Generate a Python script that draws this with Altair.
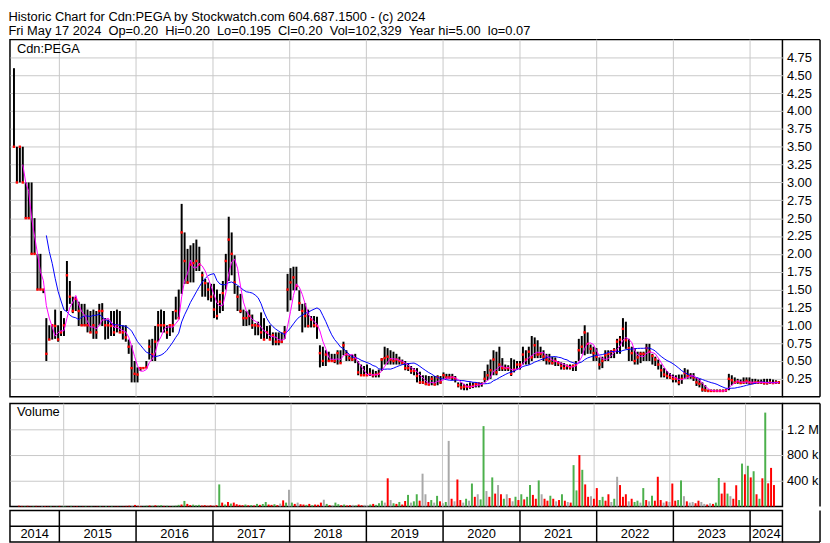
import altair as alt
import pandas as pd

FONT = "Liberation Sans"
HEADER = [
    "Historic Chart for Cdn:PEGA by Stockwatch.com 604.687.1500 - (c) 2024",
    "Fri May 17 2024\u00a0\u00a0Op=0.20\u00a0\u00a0Hi=0.20\u00a0\u00a0Lo=0.195\u00a0\u00a0Cl=0.20"
    "\u00a0\u00a0Vol=102,329\u00a0\u00a0Year hi=5.00\u00a0\u00a0lo=0.07",
]
SYMBOL = "Cdn:PEGA"
LAST_DATE = "2024-05-17"          # last bi-weekly bar
PRICE_TICKS = [0.25, 0.5, 0.75, 1.0, 1.25, 1.5, 1.75, 2.0, 2.25, 2.5, 2.75, 3.0,
               3.25, 3.5, 3.75, 4.0, 4.25, 4.5, 4.75]
VOL_TICKS = [400000, 800000, 1200000]
YEARS = [2014, 2015, 2016, 2017, 2018, 2019, 2020, 2021, 2022, 2023, 2024]

# bi-weekly bars, one line per calendar year
high = [
    4.6, 3.5, 3.5, 3.5, 3.0, 3.0, 3.0, 2.5, 2.0, 2.0, 1.5, 1.1, 1.0, 1.0, 1.22, 1.0,
    1.2, 1.1, 1.9, 1.62, 1.4, 1.4, 1.33, 1.3, 1.3, 1.22, 1.2, 1.22, 1.2, 1.3, 1.31, 1.1, 1.08, 1.2, 1.2, 1.22, 1.2, 1.0, 1.0, 0.8, 0.72, 0.5,
    0.41, 0.41, 0.41, 0.5, 0.8, 0.81, 0.99, 1.2, 1.22, 1.2, 1.0, 1.0, 1.2, 1.4, 1.5, 2.7, 2.3, 2.07, 2.12, 2.15, 2.2, 2.1, 1.75, 1.65, 1.6, 1.58,
    1.58, 1.5, 1.44, 1.62, 2.0, 2.52, 2.3, 1.98, 1.55, 1.44, 1.22, 1.2, 1.22, 1.15, 1.03, 1.05, 1.18, 1.1, 0.99, 1.0, 0.9, 0.9, 0.9, 0.9, 0.99, 1.72,
    1.8, 1.82, 1.82, 1.49, 1.3, 1.31, 1.22, 1.13, 1.13, 1.12, 0.72, 0.7, 0.65, 0.63, 0.6, 0.6, 0.65, 0.65, 0.77, 0.65, 0.59, 0.59, 0.6, 0.5, 0.45, 0.43, 0.45,
    0.4, 0.38, 0.36, 0.38, 0.54, 0.7, 0.68, 0.65, 0.63, 0.6, 0.56, 0.52, 0.5, 0.47, 0.43, 0.4, 0.4, 0.35, 0.3, 0.3, 0.29, 0.29, 0.29, 0.3, 0.29, 0.34,
    0.32, 0.32, 0.32, 0.29, 0.2, 0.2, 0.18, 0.18, 0.2, 0.2, 0.2, 0.2, 0.2, 0.36, 0.45, 0.52, 0.65, 0.63, 0.7, 0.54, 0.45, 0.44, 0.54, 0.52, 0.5, 0.5,
    0.7, 0.65, 0.7, 0.85, 0.83, 0.79, 0.7, 0.65, 0.6, 0.6, 0.56, 0.55, 0.5, 0.48, 0.47, 0.45, 0.45, 0.45, 0.5, 0.81, 0.85, 1.0, 0.9, 0.73, 0.7, 0.68,
    0.55, 0.56, 0.65, 0.65, 0.65, 0.68, 0.81, 0.85, 1.1, 1.05, 0.81, 0.7, 0.68, 0.63, 0.63, 0.63, 0.74, 0.74, 0.6, 0.56, 0.52, 0.45, 0.4, 0.36, 0.33, 0.31, 0.3,
    0.31, 0.31, 0.4, 0.38, 0.33, 0.33, 0.27, 0.25, 0.2, 0.16, 0.1, 0.1, 0.1, 0.1, 0.1, 0.1, 0.11, 0.32, 0.3, 0.27, 0.25, 0.24, 0.27, 0.27, 0.27,
    0.25, 0.25, 0.24, 0.24, 0.25, 0.25, 0.25, 0.24, 0.23, 0.22,
]
low = [
    3.5, 3.0, 3.0, 3.0, 2.5, 2.5, 2.0, 2.0, 1.5, 1.5, 1.45, 0.5, 0.8, 0.8, 0.81, 0.77,
    0.85, 0.85, 1.2, 1.3, 1.17, 1.2, 0.99, 0.99, 0.99, 0.9, 0.9, 0.81, 0.81, 1.0, 0.99, 0.8, 0.81, 0.85, 0.85, 0.9, 0.9, 0.8, 0.77, 0.6, 0.2, 0.2,
    0.2, 0.36, 0.4, 0.4, 0.52, 0.5, 0.5, 0.77, 0.9, 0.9, 0.81, 0.85, 0.9, 1.08, 1.1, 1.44, 1.58, 1.58, 1.6, 1.6, 1.76, 1.76, 1.4, 1.4, 1.35, 1.33,
    1.1, 1.08, 1.17, 1.2, 1.5, 1.62, 1.7, 1.44, 1.2, 1.17, 0.99, 0.99, 1.0, 0.95, 0.86, 0.86, 0.81, 0.8, 0.81, 0.8, 0.72, 0.72, 0.72, 0.75, 0.81, 1.19,
    1.35, 1.49, 1.49, 1.2, 0.9, 0.97, 0.97, 0.97, 0.97, 0.81, 0.41, 0.43, 0.43, 0.5, 0.5, 0.47, 0.45, 0.47, 0.58, 0.5, 0.5, 0.5, 0.47, 0.3, 0.29, 0.29, 0.29,
    0.29, 0.27, 0.27, 0.27, 0.36, 0.45, 0.45, 0.45, 0.45, 0.45, 0.45, 0.45, 0.37, 0.36, 0.32, 0.3, 0.2, 0.18, 0.18, 0.16, 0.16, 0.16, 0.16, 0.16, 0.18, 0.25,
    0.25, 0.25, 0.23, 0.2, 0.13, 0.1, 0.09, 0.09, 0.11, 0.12, 0.13, 0.13, 0.14, 0.2, 0.23, 0.25, 0.3, 0.3, 0.36, 0.36, 0.36, 0.36, 0.29, 0.34, 0.38, 0.38,
    0.45, 0.45, 0.45, 0.5, 0.54, 0.54, 0.54, 0.5, 0.45, 0.45, 0.45, 0.43, 0.43, 0.38, 0.38, 0.38, 0.38, 0.36, 0.36, 0.5, 0.6, 0.58, 0.6, 0.6, 0.5, 0.5,
    0.38, 0.4, 0.5, 0.5, 0.54, 0.54, 0.6, 0.6, 0.7, 0.67, 0.5, 0.5, 0.45, 0.45, 0.47, 0.5, 0.5, 0.5, 0.45, 0.43, 0.38, 0.27, 0.27, 0.25, 0.25, 0.2, 0.2,
    0.16, 0.18, 0.25, 0.25, 0.25, 0.22, 0.15, 0.13, 0.07, 0.07, 0.07, 0.07, 0.07, 0.07, 0.07, 0.07, 0.07, 0.09, 0.16, 0.18, 0.18, 0.18, 0.18, 0.18, 0.17,
    0.18, 0.18, 0.18, 0.18, 0.17, 0.17, 0.18, 0.18, 0.18, 0.18,
]
close = [
    3.5, 3.0, 3.5, 3.0, 2.5, 2.5, 2.0, 2.0, 1.5, 1.5, 1.5, 0.6, 0.8, 1.0, 0.99, 0.8,
    0.9, 1.0, 1.7, 1.4, 1.2, 1.37, 1.2, 1.0, 1.0, 1.0, 0.9, 1.0, 0.9, 1.2, 1.2, 1.0, 1.0, 0.99, 0.9, 1.0, 0.9, 0.9, 0.83, 0.7, 0.4, 0.32,
    0.31, 0.4, 0.4, 0.41, 0.7, 0.59, 0.77, 1.0, 1.0, 1.0, 0.9, 1.0, 1.0, 1.2, 1.1, 2.3, 1.9, 1.6, 1.85, 1.87, 1.9, 1.85, 1.7, 1.59, 1.5, 1.4,
    1.22, 1.13, 1.33, 1.45, 1.9, 2.2, 2.0, 1.6, 1.4, 1.2, 1.1, 1.1, 1.13, 1.0, 1.0, 0.99, 0.9, 0.8, 0.9, 0.8, 0.86, 0.77, 0.77, 0.77, 0.9, 1.5,
    1.6, 1.67, 1.55, 1.31, 1.2, 1.13, 0.99, 1.08, 1.0, 0.99, 0.61, 0.5, 0.59, 0.5, 0.5, 0.5, 0.61, 0.47, 0.72, 0.59, 0.54, 0.52, 0.54, 0.34, 0.3, 0.3, 0.3,
    0.32, 0.3, 0.31, 0.32, 0.52, 0.54, 0.56, 0.52, 0.5, 0.52, 0.5, 0.47, 0.4, 0.4, 0.36, 0.36, 0.29, 0.2, 0.2, 0.18, 0.17, 0.25, 0.17, 0.27, 0.2, 0.3,
    0.27, 0.27, 0.27, 0.25, 0.16, 0.13, 0.14, 0.14, 0.14, 0.15, 0.18, 0.18, 0.18, 0.25, 0.3, 0.37, 0.52, 0.34, 0.45, 0.4, 0.4, 0.4, 0.32, 0.38, 0.45, 0.45,
    0.59, 0.52, 0.63, 0.55, 0.72, 0.59, 0.6, 0.56, 0.52, 0.5, 0.47, 0.5, 0.47, 0.43, 0.4, 0.43, 0.41, 0.43, 0.45, 0.65, 0.7, 0.9, 0.74, 0.67, 0.61, 0.56,
    0.45, 0.5, 0.58, 0.6, 0.63, 0.65, 0.77, 0.8, 0.95, 0.79, 0.68, 0.61, 0.5, 0.55, 0.6, 0.6, 0.68, 0.63, 0.57, 0.52, 0.45, 0.37, 0.31, 0.29, 0.27, 0.25, 0.25,
    0.2, 0.25, 0.33, 0.29, 0.29, 0.27, 0.2, 0.18, 0.1, 0.09, 0.08, 0.08, 0.08, 0.08, 0.08, 0.08, 0.09, 0.25, 0.23, 0.2, 0.21, 0.19, 0.2, 0.22, 0.2,
    0.19, 0.2, 0.2, 0.2, 0.19, 0.19, 0.2, 0.19, 0.2, 0.2,
]
# volume in thousands of shares
volume_k = [
    12, 8, 6, 10, 5, 7, 9, 4, 6, 8, 5, 7, 4, 6, 9, 5,
    6, 4, 9, 5, 7, 3, 5, 8, 4, 6, 3, 5, 7, 4, 6, 5, 8, 4, 6, 3, 5, 9, 12, 7, 24, 10,
    8, 5, 12, 15, 10, 18, 14, 20, 9, 11, 6, 8, 12, 25, 30, 86, 40, 22, 28, 18, 25, 15, 20, 12, 18, 10,
    20, 343, 60, 30, 70, 45, 60, 35, 25, 20, 30, 18, 22, 15, 40, 25, 40, 70, 30, 25, 35, 20, 45, 95, 60, 260,
    60, 40, 60, 35, 30, 25, 40, 20, 30, 25, 60, 105, 40, 20, 15, 60, 35, 20, 30, 15, 20, 25, 15, 30, 20, 25, 18,
    30, 40, 25, 50, 90, 60, 438, 100, 50, 40, 70, 30, 85, 180, 60, 80, 190, 90, 510, 190, 70, 100, 60, 165, 80, 50,
    70, 1020, 120, 80, 420, 100, 60, 120, 90, 357, 150, 190, 110, 1250, 240, 150, 452, 200, 333, 190, 120, 190, 130, 80, 150, 100,
    190, 110, 150, 333, 180, 120, 405, 190, 120, 90, 167, 120, 80, 100, 190, 90, 70, 60, 643, 250, 800, 570, 343, 150, 160, 120,
    286, 100, 150, 90, 190, 70, 120, 462, 333, 150, 190, 80, 120, 70, 90, 60, 286, 100, 80, 167, 90, 462, 100, 60, 80, 70, 357,
    90, 100, 405, 160, 80, 60, 70, 50, 90, 70, 40, 30, 50, 40, 60, 443, 200, 371, 200, 160, 120, 330, 100, 667, 500,
    633, 452, 548, 190, 120, 438, 1460, 360, 600, 333,
]
# g = up (green), r = down (red), n = unchanged (grey)
volume_dir = (
    "rrgrrgrrnrrgrgrg"
    "grgrrgrgrgrrgrgrgrrgrrrnrr"
    "rggrgrggrgrgggrgrrgggrrrrr"
    "rgrgrgrrrrgrgrgrggrrgrnrgn"
    "grnrrgrgrrrngrnggrgrrngrrnn"
    "grgggnrngrgrrgnggrnnrgngrn"
    "gnrnrrngngrnggnrgrnrgnrngr"
    "grggrrgnrrgrnrgrnrggrgrrnr"
    "rggrrngnrrrnrggngrngrrrnrnr"
    "rggnrnnrrnnrnrggrrgnrrggr"
    "grgrgrgrrr"
)

W, HP, HV, HY = 781, 361, 104, 32
RX = W + 38
GRID = "#c8c8c8"

dates = pd.date_range(end=LAST_DATE, periods=len(close), freq="14D")
df = pd.DataFrame({
    "date": dates, "high": high, "low": low, "close": close,
    "volume": [v * 1000 for v in volume_k], "dir": list(volume_dir),
})

x_start = pd.Timestamp("2014-05-11")
x_end = pd.Timestamp("2024-06-03")
year_starts = pd.DataFrame({"date": [pd.Timestamp(f"{y}-01-01") for y in YEARS[1:]]})
seg_start = [max(pd.Timestamp(f"{y}-01-01"), x_start) for y in YEARS]
seg_end = [min(pd.Timestamp(f"{y + 1}-01-01"), x_end) for y in YEARS]
segs = pd.DataFrame({
    "label": [str(y) for y in YEARS],
    "mid": [a + (b - a) / 2 for a, b in zip(seg_start, seg_end)],
})

xscale = alt.Scale(domain=[alt.DateTime(year=2014, month=5, date=11),
                           alt.DateTime(year=2024, month=6, date=3)])
X = alt.X("date:T", scale=xscale, axis=None)

price_axis = alt.Axis(orient="right", values=PRICE_TICKS, format=".2f", title=None,
                      grid=True, gridColor=GRID, domain=False, ticks=False, labelPadding=4,
                      labelFont=FONT, labelFontSize=13, labelColor="black")
pscale = alt.Scale(domain=[0, 5], nice=False, zero=True)

one = pd.DataFrame({"v": [0]})


def frame(h, top, bottom):
    base = alt.Chart(one)
    layers = [base.mark_rule(color="black", strokeWidth=1.5).encode(
        x=alt.value(RX), y=alt.value(0), y2=alt.value(h))]
    if top:
        layers.append(base.mark_rule(color="black", strokeWidth=1.5).encode(
            x=alt.value(W), x2=alt.value(RX), y=alt.value(0)))
    if bottom:
        layers.append(base.mark_rule(color="black", strokeWidth=1.5).encode(
            x=alt.value(W), x2=alt.value(RX), y=alt.value(h)))
    return layers


vgrid = alt.Chart(year_starts).mark_rule(color=GRID, strokeWidth=1).encode(x=X)

bars = alt.Chart(df).mark_rule(color="black", strokeWidth=2).encode(
    x=X, y=alt.Y("low:Q", scale=pscale, axis=price_axis), y2="high:Q")
closes = alt.Chart(df).mark_square(color="#ff0000", size=6, opacity=1).encode(
    x=X, y=alt.Y("close:Q", scale=pscale, axis=price_axis))


def ma_line(n, color):
    return alt.Chart(df).transform_window(
        window=[alt.WindowFieldDef(op="mean", field="close", **{"as": "ma"}),
                alt.WindowFieldDef(op="count", **{"as": "cnt"})],
        frame=[-(n - 1), 0], sort=[alt.SortField(field="date", order="ascending")]
    ).transform_filter(f"datum.cnt >= {n}").mark_line(color=color, strokeWidth=1).encode(
        x=X, y=alt.Y("ma:Q", scale=pscale, axis=price_axis))


sym = alt.Chart(one).mark_text(align="left", baseline="top", font=FONT, fontSize=13,
                               color="black").encode(
    x=alt.value(7), y=alt.value(4), text=alt.value(SYMBOL))

price = alt.layer(vgrid, bars, closes, ma_line(12, "#0000ff"), ma_line(4, "#ff00ff"), sym,
                  *frame(HP, True, True)).properties(width=W, height=HP)

vol_axis = alt.Axis(orient="right", values=VOL_TICKS, title=None, grid=True, gridColor=GRID,
                    domain=False, ticks=False, labelPadding=4, labelFont=FONT, labelFontSize=13,
                    labelColor="black",
                    labelExpr="datum.value >= 1000000 ? format(datum.value / 1000000, '.1f') + ' M'"
                              " : format(datum.value / 1000, 'd') + ' k'")
vbars = alt.Chart(df).mark_bar(size=2).encode(
    x=X,
    y=alt.Y("volume:Q", scale=alt.Scale(domain=[0, 1600000], nice=False), axis=vol_axis),
    color=alt.Color("dir:N", scale=alt.Scale(domain=["g", "r", "n"],
                                            range=["#4cb04c", "#ff0000", "#a8a8a8"]),
                    legend=None),
)
vlabel = alt.Chart(one).mark_text(align="left", baseline="top", font=FONT, fontSize=13,
                                  color="black").encode(
    x=alt.value(7), y=alt.value(3), text=alt.value("Volume"))
volume = alt.layer(vgrid, vbars, vlabel, *frame(HV, True, False)).properties(width=W, height=HV)

ysep = alt.Chart(year_starts).mark_rule(color="black", strokeWidth=1.5).encode(x=X)
ymid = alt.Chart(one).mark_rule(color="black", strokeWidth=1.5).encode(
    x=alt.value(0), x2=alt.value(W), y=alt.value(16))
ytext = alt.Chart(segs).mark_text(font=FONT, fontSize=13, color="black", baseline="middle").encode(
    x=alt.X("mid:T", scale=xscale, axis=None), y=alt.value(24), text="label:N")
years = alt.layer(ysep, ymid, ytext, *frame(HY, False, True)).properties(width=W, height=HY)

chart = alt.vconcat(
    alt.vconcat(price, volume, spacing=3),
    years,
    spacing=0,
    padding=0,
    title=alt.Title(HEADER, anchor="start", font=FONT, fontSize=13, fontWeight="normal",
                    color="black", lineHeight=14, offset=0),
).configure_view(stroke="black", strokeWidth=1.5)

chart.save("out.html", embed_options={"renderer": "svg", "actions": False})
